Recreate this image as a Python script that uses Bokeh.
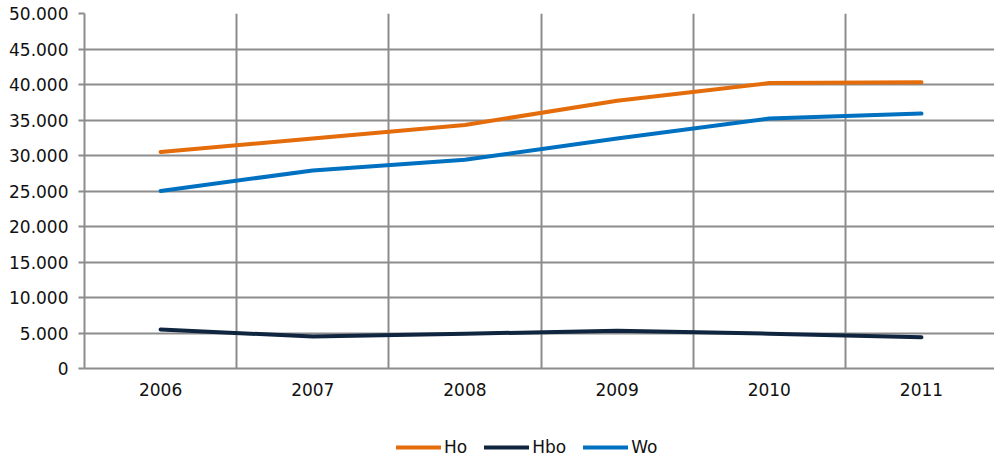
from bokeh.plotting import figure
from bokeh.models import Range1d, FixedTicker, Legend, LegendItem
from bokeh.layouts import column
from bokeh.embed import file_html
from bokeh.resources import INLINE

years = ["2006", "2007", "2008", "2009", "2010", "2011"]
ho = [30500, 32400, 34300, 37700, 40200, 40300]
hbo = [5500, 4500, 4900, 5300, 4900, 4400]
wo = [25000, 27900, 29400, 32400, 35200, 35900]
y_ticks = [0, 5000, 10000, 15000, 20000, 25000, 30000, 35000, 40000, 45000, 50000]
y_labels = ["0", "5.000", "10.000", "15.000", "20.000", "25.000", "30.000",
            "35.000", "40.000", "45.000", "50.000"]
series_names = ["Ho", "Hbo", "Wo"]
series_colors = ["#E46C0A", "#10253F", "#0070C0"]

xpos = [i + 0.5 for i in range(len(years))]
FONT = "DejaVu Sans"
GRID = "#8c8c8c"
TXT = "#111111"

p = figure(width=994, height=425, output_backend="svg", toolbar_location=None,
           x_range=Range1d(0, 5.98), y_range=Range1d(0, 50000),
           min_border_left=84, min_border_right=0, min_border_top=13,
           min_border_bottom=57)
p.outline_line_color = None
p.background_fill_color = "white"
p.border_fill_color = "white"

# axes
p.xaxis.ticker = FixedTicker(ticks=xpos)
p.xaxis.major_label_overrides = {x: y for x, y in zip(xpos, years)}
p.yaxis.ticker = FixedTicker(ticks=y_ticks)
p.yaxis.major_label_overrides = {t: l for t, l in zip(y_ticks, y_labels)}
for ax in (p.xaxis[0], p.yaxis[0]):
    ax.axis_line_color = GRID
    ax.axis_line_width = 2
    ax.major_label_text_font = FONT
    ax.major_label_text_font_size = "17px"
    ax.major_label_text_color = TXT
    ax.minor_tick_line_color = None
p.xaxis.major_tick_line_color = None
p.xaxis.major_label_standoff = 8
p.yaxis.major_tick_line_color = GRID
p.yaxis.major_tick_line_width = 2
p.yaxis.major_tick_out = 6
p.yaxis.major_tick_in = 0
p.yaxis.major_label_standoff = 10

# grids
p.xgrid.ticker = FixedTicker(ticks=[1, 2, 3, 4, 5])
p.xgrid.grid_line_color = GRID
p.xgrid.grid_line_width = 2
p.ygrid.grid_line_color = GRID
p.ygrid.grid_line_width = 2

for vals, col in zip([ho, hbo, wo], series_colors):
    p.line(xpos, vals, line_color=col, line_width=4, line_cap="round")

# legend strip below the chart (same series, drawn outside its visible range)
lg = figure(width=994, height=33, output_backend="svg", toolbar_location=None,
            x_range=Range1d(0, 5.98), y_range=Range1d(-2, -1),
            min_border=0, min_border_left=0, min_border_right=0,
            min_border_top=0, min_border_bottom=0)
lg.axis.visible = False
lg.grid.visible = False
lg.outline_line_color = None
items = []
for name, vals, col in zip(series_names, [ho, hbo, wo], series_colors):
    r = lg.line(xpos, vals, line_color=col, line_width=4, line_cap="round")
    items.append(LegendItem(label=name, renderers=[r]))
legend = Legend(items=items, orientation="horizontal", location=(312, 1),
                glyph_width=45, label_standoff=3, spacing=17,
                label_text_font=FONT, label_text_font_size="17px",
                label_text_color=TXT, border_line_color=None,
                background_fill_alpha=0, margin=0, padding=0)
lg.add_layout(legend)

open("out.html", "w").write(file_html(column(p, lg, spacing=0), INLINE))
